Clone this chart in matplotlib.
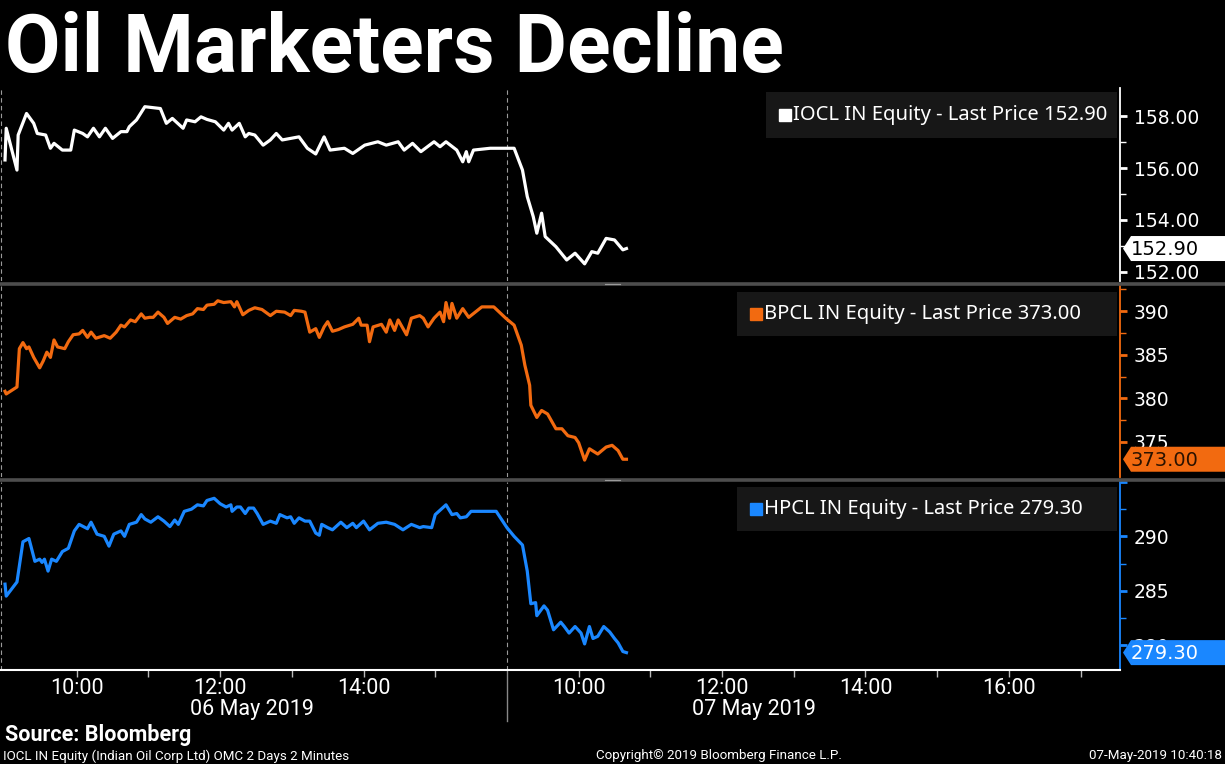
import matplotlib
matplotlib.use("Agg")
import matplotlib.pyplot as plt
import matplotlib.transforms as mtransforms
from matplotlib.lines import Line2D
from matplotlib.patches import Polygon, Rectangle

# ---- data ----
iocl_time = ["06 09:00", "06 09:01", "06 09:10", "06 09:11", "06 09:18", "06 09:24", "06 09:27", "06 09:34",
             "06 09:38", "06 09:41", "06 09:48", "06 09:55", "06 09:58", "06 10:05", "06 10:09", "06 10:14",
             "06 10:19", "06 10:24", "06 10:30", "06 10:37", "06 10:42", "06 10:44", "06 10:50", "06 10:57",
             "06 11:10", "06 11:15", "06 11:20", "06 11:29", "06 11:32", "06 11:39", "06 11:44", "06 11:49",
             "06 11:56", "06 12:03", "06 12:07", "06 12:10", "06 12:16", "06 12:21", "06 12:24", "06 12:29",
             "06 12:36", "06 12:42", "06 12:47", "06 12:52", "06 12:59", "06 13:06", "06 13:13", "06 13:20",
             "06 13:27", "06 13:32", "06 13:44", "06 13:51", "06 14:01", "06 14:12", "06 14:19", "06 14:29",
             "06 14:34", "06 14:41", "06 14:48", "06 14:59", "06 15:04", "06 15:09", "06 15:18", "06 15:23",
             "06 15:26", "06 15:28", "06 15:32", "06 15:46", "07 09:06", "07 09:13", "07 09:17", "07 09:22",
             "07 09:25", "07 09:29", "07 09:32", "07 09:41", "07 09:50", "07 09:57", "07 10:05", "07 10:11",
             "07 10:16", "07 10:23", "07 10:30", "07 10:37", "07 10:40"]
iocl_price = [156.31, 157.53, 155.92, 157.27, 158.10, 157.72, 157.33, 157.27, 156.76, 156.95,
              156.69, 156.69, 157.46, 157.33, 157.20, 157.53, 157.20, 157.53, 157.14, 157.40,
              157.40, 157.59, 157.85, 158.36, 158.29, 157.72, 157.91, 157.53, 157.85, 157.78,
              157.97, 157.87, 157.78, 157.46, 157.72, 157.46, 157.72, 157.20, 157.33, 157.27,
              156.88, 157.08, 157.33, 157.08, 157.14, 157.20, 156.76, 156.54, 157.20, 156.69,
              156.76, 156.56, 156.88, 157.01, 156.88, 157.01, 156.69, 156.95, 156.63, 157.01,
              156.82, 157.01, 156.69, 156.24, 156.63, 156.24, 156.69, 156.76, 156.76, 155.92,
              154.90, 154.13, 153.49, 154.26, 153.36, 152.97, 152.46, 152.72, 152.31, 152.78,
              152.72, 153.29, 153.23, 152.85, 152.90]

bpcl_time = ["06 09:00", "06 09:01", "06 09:10", "06 09:12", "06 09:15", "06 09:18", "06 09:20", "06 09:24",
             "06 09:29", "06 09:32", "06 09:35", "06 09:38", "06 09:41", "06 09:44", "06 09:50", "06 09:53",
             "06 09:57", "06 10:02", "06 10:05", "06 10:09", "06 10:12", "06 10:16", "06 10:23", "06 10:28",
             "06 10:33", "06 10:37", "06 10:40", "06 10:45", "06 10:49", "06 10:54", "06 10:57", "06 11:01",
             "06 11:04", "06 11:08", "06 11:13", "06 11:16", "06 11:22", "06 11:27", "06 11:32", "06 11:37",
             "06 11:41", "06 11:46", "06 11:49", "06 11:55", "06 11:58", "06 12:03", "06 12:09", "06 12:12",
             "06 12:14", "06 12:19", "06 12:24", "06 12:29", "06 12:35", "06 12:42", "06 12:47", "06 12:54",
             "06 12:59", "06 13:02", "06 13:08", "06 13:11", "06 13:15", "06 13:20", "06 13:23", "06 13:27",
             "06 13:30", "06 13:34", "06 13:39", "06 13:44", "06 13:51", "06 13:56", "06 13:58", "06 14:03",
             "06 14:05", "06 14:08", "06 14:15", "06 14:19", "06 14:22", "06 14:26", "06 14:29", "06 14:36",
             "06 14:40", "06 14:47", "06 14:50", "06 14:54", "06 14:59", "06 15:04", "06 15:07", "06 15:09",
             "06 15:12", "06 15:14", "06 15:18", "06 15:23", "06 15:28", "06 15:39", "06 15:49", "06 15:59",
             "07 09:06", "07 09:12", "07 09:15", "07 09:19", "07 09:20", "07 09:25", "07 09:29", "07 09:34",
             "07 09:41", "07 09:46", "07 09:51", "07 09:57", "07 10:00", "07 10:05", "07 10:09", "07 10:16",
             "07 10:23", "07 10:28", "07 10:33", "07 10:37", "07 10:40"]
bpcl_price = [380.8, 380.5, 381.3, 385.7, 386.4, 385.7, 385.9, 384.7, 383.5, 384.3,
              385.3, 384.7, 386.7, 385.9, 385.7, 386.5, 387.3, 387.4, 387.8, 387.0,
              387.6, 386.9, 387.2, 386.9, 387.6, 388.4, 388.2, 389.0, 388.8, 389.7,
              389.2, 389.3, 389.3, 389.9, 389.3, 388.6, 389.3, 389.1, 389.5, 389.7,
              390.3, 390.2, 390.7, 390.8, 391.2, 391.0, 391.1, 390.5, 391.1, 389.6,
              390.1, 390.4, 390.2, 389.5, 390.0, 389.9, 389.5, 390.1, 390.0, 389.9,
              387.6, 388.0, 387.0, 388.2, 388.8, 387.7, 387.9, 388.2, 388.5, 389.2,
              388.4, 388.4, 386.5, 388.2, 388.5, 387.6, 389.0, 387.8, 389.0, 387.3,
              389.2, 389.5, 389.2, 388.2, 389.2, 389.9, 388.8, 391.0, 389.2, 390.9,
              389.2, 390.3, 389.3, 390.5, 390.5, 389.2, 388.4, 386.1, 383.8, 381.5,
              379.2, 377.8, 378.6, 378.2, 376.5, 376.5, 375.7, 375.5, 374.9, 372.9,
              374.2, 373.6, 374.4, 374.6, 374.0, 373.0, 373.0]

hpcl_time = ["06 09:00", "06 09:01", "06 09:10", "06 09:15", "06 09:20", "06 09:25", "06 09:29", "06 09:31",
             "06 09:33", "06 09:36", "06 09:39", "06 09:43", "06 09:48", "06 09:53", "06 09:58", "06 10:02",
             "06 10:09", "06 10:12", "06 10:17", "06 10:23", "06 10:27", "06 10:31", "06 10:37", "06 10:40",
             "06 10:44", "06 10:50", "06 10:54", "06 10:57", "06 11:02", "06 11:08", "06 11:13", "06 11:18",
             "06 11:22", "06 11:25", "06 11:30", "06 11:36", "06 11:41", "06 11:46", "06 11:49", "06 11:55",
             "06 12:00", "06 12:05", "06 12:09", "06 12:10", "06 12:14", "06 12:17", "06 12:21", "06 12:24",
             "06 12:28", "06 12:31", "06 12:36", "06 12:42", "06 12:47", "06 12:50", "06 12:56", "06 12:59",
             "06 13:02", "06 13:06", "06 13:11", "06 13:15", "06 13:20", "06 13:23", "06 13:25", "06 13:30",
             "06 13:34", "06 13:41", "06 13:46", "06 13:51", "06 13:54", "06 14:00", "06 14:05", "06 14:12",
             "06 14:19", "06 14:26", "06 14:33", "06 14:40", "06 14:47", "06 14:50", "06 14:57", "06 15:00",
             "06 15:09", "06 15:14", "06 15:18", "06 15:21", "06 15:26", "06 15:30", "06 15:51", "07 09:00",
             "07 09:06", "07 09:13", "07 09:17", "07 09:20", "07 09:24", "07 09:25", "07 09:31", "07 09:34",
             "07 09:39", "07 09:45", "07 09:48", "07 09:52", "07 09:57", "07 10:02", "07 10:05", "07 10:09",
             "07 10:12", "07 10:16", "07 10:21", "07 10:26", "07 10:30", "07 10:33", "07 10:37", "07 10:40"]
hpcl_price = [285.6, 284.5, 285.8, 289.5, 289.8, 287.7, 287.9, 287.6, 287.9, 286.8,
              287.9, 287.7, 288.6, 288.9, 290.5, 291.1, 290.7, 291.3, 290.2, 290.0,
              289.1, 290.2, 290.5, 290.0, 291.1, 291.3, 292.0, 291.6, 291.3, 291.8,
              291.4, 290.9, 291.5, 291.1, 292.3, 292.5, 292.9, 292.8, 293.3, 293.5,
              293.0, 292.7, 292.9, 292.3, 292.7, 292.7, 292.1, 292.6, 292.6, 292.1,
              291.1, 291.4, 291.2, 292.0, 291.7, 291.8, 291.2, 291.7, 291.4, 291.4,
              290.3, 290.1, 291.1, 290.8, 290.6, 291.3, 290.8, 291.2, 290.8, 291.4,
              290.6, 291.2, 291.3, 291.1, 290.6, 291.1, 290.8, 290.9, 290.8, 292.0,
              292.9, 292.0, 292.1, 291.7, 291.8, 292.3, 292.3, 290.8, 290.0, 289.2,
              286.8, 283.8, 283.9, 282.7, 283.6, 283.2, 281.4, 282.1, 281.7, 281.1,
              281.7, 281.1, 280.1, 281.7, 280.6, 280.8, 281.7, 281.2, 280.6, 280.2,
              279.4, 279.3]

series_names = ["IOCL IN Equity", "BPCL IN Equity", "HPCL IN Equity"]
last_prices = [152.90, 373.00, 279.30]
series_colors = ["#ffffff", "#f26a10", "#1a87ff"]
tag_text_colors = ["#000000", "#2a1200", "#ffffff"]
y_limits = [(151.65, 159.08), (370.96, 392.9), (277.7, 294.9)]
y_major = [[152, 154, 156, 158], [375, 380, 385, 390], [280, 285, 290, 295]]
y_minor = [[153, 155, 157], [377.5, 382.5, 387.5, 392.5], [282.5, 287.5, 292.5]]
y_fmt = ["{:.2f}", "{:.0f}", "{:.0f}"]

day_labels = ["06 May 2019", "07 May 2019"]
hour_ticks = [("06", 10), ("06", 11), ("06", 12), ("06", 13), ("06", 14), ("06", 15),
              ("07", 10), ("07", 11), ("07", 12), ("07", 13), ("07", 14), ("07", 15), ("07", 16), ("07", 17)]
labelled_hours = [10, 12, 14, 16]

SESSION = 420  # 09:00-16:00, overnight gap collapsed


def session_minute(stamp):
    day, hm = stamp.split()
    h, m = hm.split(":")
    return (int(day) - 6) * SESSION + (int(h) - 9) * 60 + int(m)


NARROW = ["Roboto", "DejaVu Sans"]
plt.rcParams["font.family"] = ["DejaVu Sans"]

fig = plt.figure(figsize=(12.25, 7.64), dpi=100, facecolor="black")
H = 764.0
W = 1225.0

# panel rows in pixel space (top, bottom)
rows = [(88, 281), (286, 477), (482, 670)]
axes = []
for top, bot in rows:
    ax = fig.add_axes([0, (H - bot) / H, 1120 / W, (bot - top) / H])
    ax.set_facecolor("black")
    axes.append(ax)

series = [(iocl_time, iocl_price), (bpcl_time, bpcl_price), (hpcl_time, hpcl_price)]
xmin, xmax = -4.2, 933

legend_boxes = [(766, 92, 138), (737, 292, 336), (737, 487, 531)]

for i, ax in enumerate(axes):
    times, prices = series[i]
    x = [session_minute(t) for t in times]
    col = series_colors[i]
    ax.plot(x, prices, color=col, lw=2.3, solid_joinstyle="round", zorder=3)
    ax.set_xlim(xmin, xmax)
    ax.set_ylim(*y_limits[i])

    for s in ["top", "left", "bottom"]:
        ax.spines[s].set_visible(False)
    ax.spines["right"].set_color(col)
    ax.spines["right"].set_linewidth(1.3)

    ax.yaxis.tick_right()
    ax.set_yticks(y_major[i])
    ax.set_yticklabels([y_fmt[i].format(v) if y_limits[i][0] < v < y_limits[i][1] else ""
                        for v in y_major[i]])
    ax.set_yticks(y_minor[i], minor=True)
    ax.tick_params(axis="y", which="major", colors=col, length=5, width=2,
                   pad=5, labelsize=13.5, labelcolor="white")
    ax.tick_params(axis="y", which="minor", colors=col, length=4, width=1)

    # day boundary and left edge dashed lines
    for xv in [-3.0, SESSION]:
        ax.axvline(xv, color="#9a9a9a", lw=0.8, dashes=(4, 3), zorder=1)

    # legend box
    bx, btop, bbot = legend_boxes[i]
    rtop, rbot = rows[i]
    hgt = rbot - rtop
    y0 = 1 - (bbot - rtop) / hgt
    y1 = 1 - (btop - rtop) / hgt
    ax.add_patch(Rectangle((bx / 1120, y0), (1117 - bx) / 1120, y1 - y0,
                           transform=ax.transAxes, facecolor="#171717",
                           edgecolor="none", zorder=4))
    ym = (y0 + y1) / 2
    ax.plot([(bx + 19) / 1120], [ym], marker="s", ms=8.5, color=col,
            transform=ax.transAxes, zorder=5, clip_on=False)
    ax.text((bx + 27) / 1120, ym,
            f"{series_names[i]} - Last Price {last_prices[i]:.2f}",
            transform=ax.transAxes, color="white", fontsize=14.5,
            family="Noto Sans", va="center", ha="left", zorder=5)

    # last-price tag at the right edge (offsets in inches from the spine)
    anchor = mtransforms.blended_transform_factory(ax.transAxes, ax.transData)
    tag_tr = fig.dpi_scale_trans + mtransforms.ScaledTranslation(1.0, last_prices[i], anchor)
    tag = Polygon([(0.03, 0), (0.11, 0.125), (1.2, 0.125), (1.2, -0.125), (0.11, -0.125)],
                  closed=True, transform=tag_tr, facecolor=col, edgecolor="none", zorder=6)
    fig.add_artist(tag)
    fig.text(0.105, -0.01, f"{last_prices[i]:.2f}", transform=tag_tr,
             color=tag_text_colors[i], fontsize=14, va="center", ha="left", zorder=7)

for ax in axes[:2]:
    ax.set_xticks([])

# bottom time axis
ax3 = axes[2]
ax3.spines["bottom"].set_visible(True)
ax3.spines["bottom"].set_color("white")
ax3.spines["bottom"].set_linewidth(1.5)
tick_pos = [session_minute(f"{d} {h:02d}:00") for d, h in hour_ticks]
tick_lab = [f"{h}:00" if h in labelled_hours else "" for d, h in hour_ticks]
ax3.set_xticks(tick_pos)
ax3.set_xticklabels(tick_lab)
ax3.tick_params(axis="x", colors="#bbbbbb", length=5, width=1, pad=1,
                labelsize=15.5, labelcolor="white")
for lab in ax3.get_xticklabels():
    lab.set_family(NARROW)

xfix = mtransforms.blended_transform_factory(ax3.transData, ax3.transAxes)
for j, lab in enumerate(day_labels):
    ax3.text(j * SESSION + 207, -0.21, lab, transform=xfix, color="white",
             fontsize=15.5, family=NARROW, ha="center", va="center")
ax3.add_line(Line2D([SESSION, SESSION], [0, -0.27], transform=xfix, color="#888888",
                    lw=1, clip_on=False))

# grey separators between the panels
for ysep in [283.5, 479.5]:
    fig.add_artist(Line2D([0, 1], [(H - ysep) / H] * 2, color="#4d4d4d", lw=2.6))
    fig.add_artist(Line2D([605 / W, 620 / W], [(H - ysep) / H] * 2, color="#9a9a9a", lw=0.8))

# title and footer
fig.text(5 / W, (H - 72) / H, "Oil Marketers Decline", color="white", fontsize=58,
         fontweight="bold", family=NARROW, ha="left", va="baseline")
fig.text(5 / W, (H - 735) / H, "Source: Bloomberg", color="white", fontsize=15.5,
         fontweight="bold", family=NARROW, ha="left", va="center")
fig.text(3 / W, (H - 756) / H, "IOCL IN Equity (Indian Oil Corp Ltd) OMC 2 Days 2 Minutes",
         color="white", fontsize=9.6, family=NARROW, ha="left", va="center")
fig.text(719 / W, (H - 756) / H, "Copyright\u00a9 2019 Bloomberg Finance L.P.",
         color="white", fontsize=9.6, family=NARROW, ha="center", va="center")
fig.text(1222 / W, (H - 756) / H, "07-May-2019 10:40:18",
         color="white", fontsize=9.6, family=NARROW, ha="right", va="center")

fig.savefig("out.png", dpi=100, facecolor="black")
